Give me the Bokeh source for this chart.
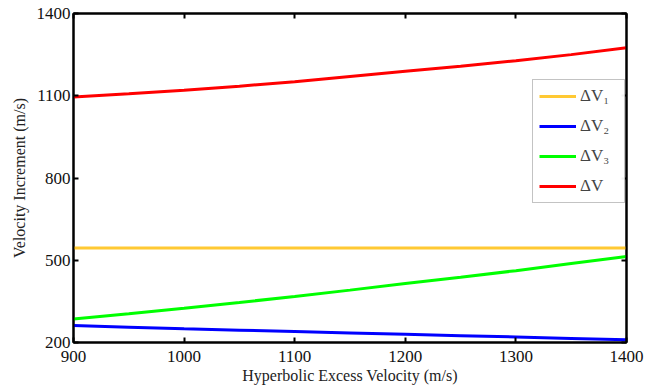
from bokeh.plotting import figure
from bokeh.models import Range1d, FixedTicker, LinearAxis, Legend, LegendItem
from bokeh.embed import file_html
from bokeh.resources import INLINE

# Data
v_inf = [900, 950, 1000, 1050, 1100, 1150, 1200, 1250, 1300, 1350, 1400]
dv1 = [545, 545, 545, 545, 545, 545, 545, 545, 545, 545, 545]
dv2 = [262, 256, 250, 245, 240, 235, 230, 225, 220, 215, 210]
dv3 = [286, 305, 325, 346, 368, 391, 415, 438, 462, 488, 514]
dv = [1095, 1107, 1120, 1135, 1151, 1170, 1189, 1208, 1228, 1250, 1275]

x_ticks = [900, 1000, 1100, 1200, 1300, 1400]
y_ticks = [200, 500, 800, 1100, 1400]

FONT = "Liberation Serif"

p = figure(frame_width=553, frame_height=329,
           x_range=Range1d(900, 1400), y_range=Range1d(200, 1400),
           output_backend="svg", toolbar_location=None,
           min_border_left=73, min_border_right=22, min_border_top=13, min_border_bottom=44)
p.xgrid.visible = False
p.ygrid.visible = False
p.background_fill_color = "white"
p.border_fill_color = "white"
p.outline_line_color = "black"
p.outline_line_width = 2

def style(ax, ticks, labels=True):
    ax.ticker = FixedTicker(ticks=ticks)
    ax.major_tick_in = 5
    ax.major_tick_out = 0
    ax.major_tick_line_width = 2
    ax.minor_tick_line_color = None
    ax.axis_line_width = 2
    ax.axis_line_color = "black"
    ax.major_label_text_font = FONT
    if labels:
        ax.major_label_text_font_size = "17px"
        ax.major_label_text_color = "#111111"
    else:
        ax.major_label_text_font_size = "1px"
        ax.major_label_text_color = None
    ax.major_label_standoff = 3
    ax.axis_label_text_font = FONT
    ax.axis_label_text_font_size = "16px"
    ax.axis_label_text_font_style = "normal"
    ax.axis_label_text_color = "#222222"
    ax.axis_label_standoff = 6

style(p.xaxis[0], x_ticks)
style(p.yaxis[0], y_ticks)
p.xaxis[0].axis_label = "Hyperbolic Excess Velocity (m/s)"
p.yaxis[0].axis_label = "Velocity Increment (m/s)"
p.xaxis[0].major_label_standoff = 8
p.xaxis[0].axis_label_standoff = 2

ax_r = LinearAxis()
style(ax_r, y_ticks, labels=False)
p.add_layout(ax_r, "right")
ax_t = LinearAxis()
style(ax_t, x_ticks, labels=False)
p.add_layout(ax_t, "above")

r1 = p.line(v_inf, dv1, line_color="#ffc933", line_width=3)
r2 = p.line(v_inf, dv2, line_color="#0000ff", line_width=3)
r3 = p.line(v_inf, dv3, line_color="#00ff00", line_width=3)
r4 = p.line(v_inf, dv, line_color="#ff0000", line_width=3)

legend = Legend(items=[
    LegendItem(label="\u0394V\u2081", renderers=[r1]),
    LegendItem(label="\u0394V\u2082", renderers=[r2]),
    LegendItem(label="\u0394V\u2083", renderers=[r3]),
    LegendItem(label="\u0394V", renderers=[r4]),
], location=(459, 139))
legend.label_text_font = FONT
legend.label_text_font_size = "17px"
legend.glyph_width = 37
legend.glyph_height = 18
legend.label_height = 18
legend.label_width = 38
legend.spacing = 10
legend.padding = 6
legend.label_standoff = 4
legend.border_line_color = "#888888"
legend.border_line_width = 1
legend.background_fill_color = "white"
legend.margin = 0
p.add_layout(legend, "center")

open("out.html", "w").write(file_html(p, INLINE))
